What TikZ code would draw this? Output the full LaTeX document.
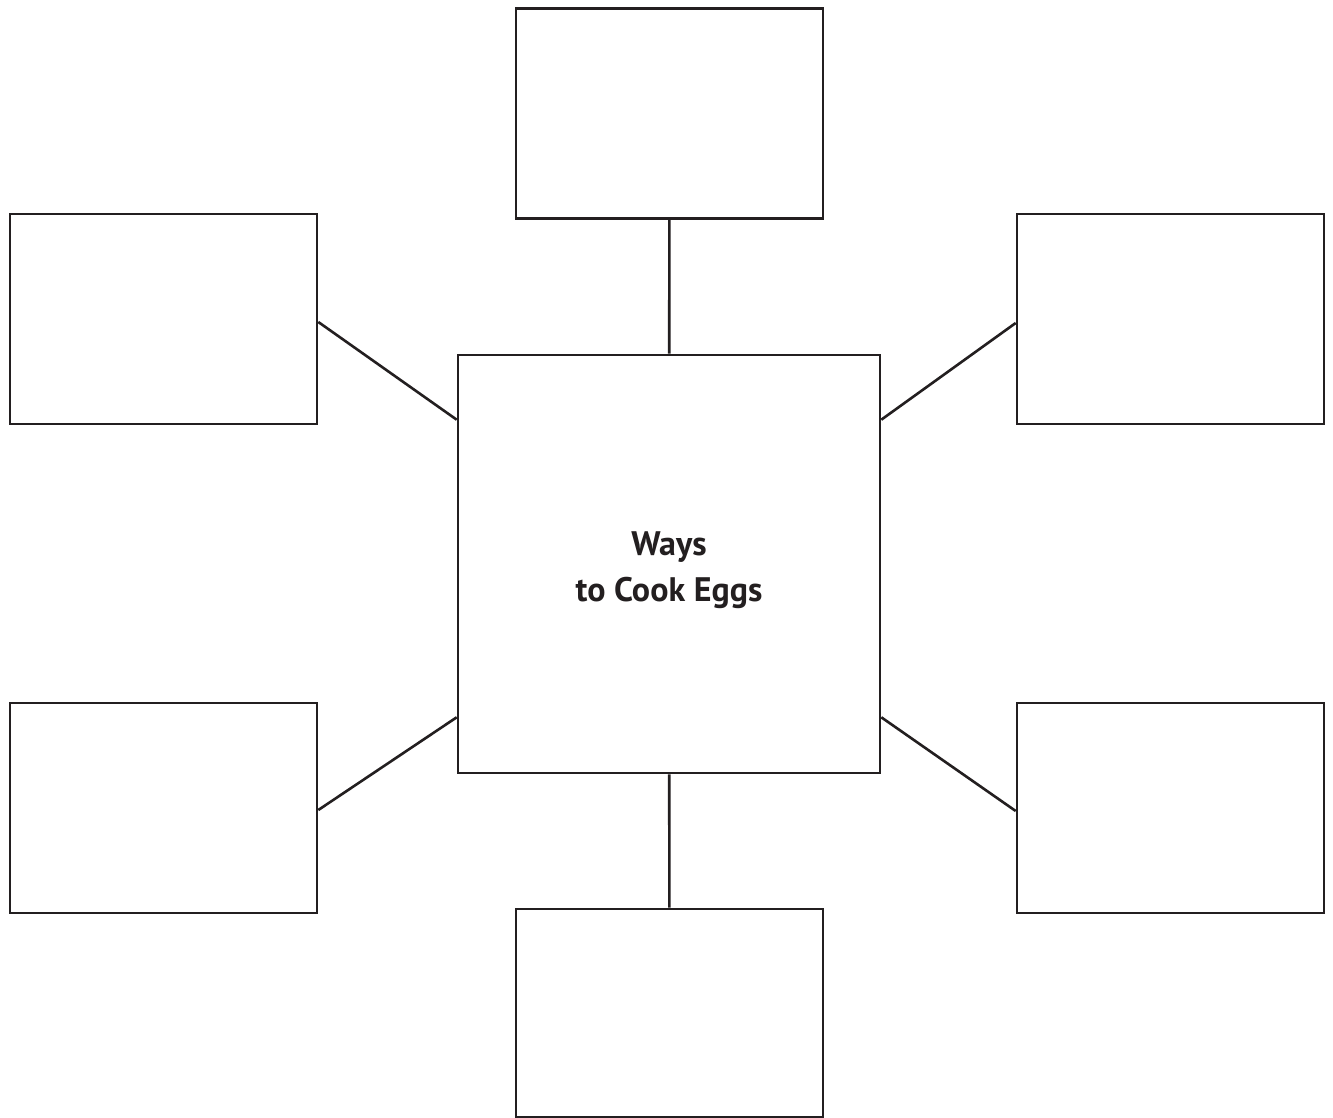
\documentclass[tikz,border=0pt]{standalone}
\usepackage{fontspec}
\setsansfont{PT Sans}
\usepackage{tikz}
\usetikzlibrary{positioning}
\definecolor{ink}{HTML}{231F20}
\tikzset{
  hub/.style={draw=ink, line width=1.3pt, fill=white, minimum width=211pt, minimum height=209pt,
    align=center, font=\fontsize{17}{23}\selectfont\sffamily\bfseries, text=ink, text height=41.5pt},
  leaf/.style={draw=ink, line width=1.3pt, fill=white, minimum width=153.5pt, minimum height=105pt},
  spoke/.style={draw=ink, line width=1.3pt},
}
\begin{document}
\begin{tikzpicture}[x=0.5pt,y=-0.5pt]
  \useasboundingbox (0,0) rectangle (1333,1118);
  % centre and the six boxes round it
  \node[hub] (eggs) at (669,564) {Ways\\to Cook Eggs};
  \node[leaf] (top) at (669.5,113.5) {};
  \node[leaf, minimum height=104pt] (bot) at (669.5,1013) {};
  \node[leaf] (lt) at (163.5,319) {};
  \node[leaf] (rt) at (1170.5,319) {};
  \node[leaf] (lb) at (163.5,808) {};
  \node[leaf] (rb) at (1170.5,808) {};
  % spokes
  \draw[spoke] (top) -- (eggs);
  \draw[spoke] (eggs) -- (bot);
  \draw[spoke] ([yshift=-1.5pt]lt.east) -- ([yshift=-33pt]eggs.north west);
  \draw[spoke] ([yshift=-2pt]rt.west) -- ([yshift=-33pt]eggs.north east);
  \draw[spoke] ([yshift=-1pt]lb.east) -- ([yshift=28.5pt]eggs.south west);
  \draw[spoke] ([yshift=-1.5pt]rb.west) -- ([yshift=28.5pt]eggs.south east);
\end{tikzpicture}
\end{document}
